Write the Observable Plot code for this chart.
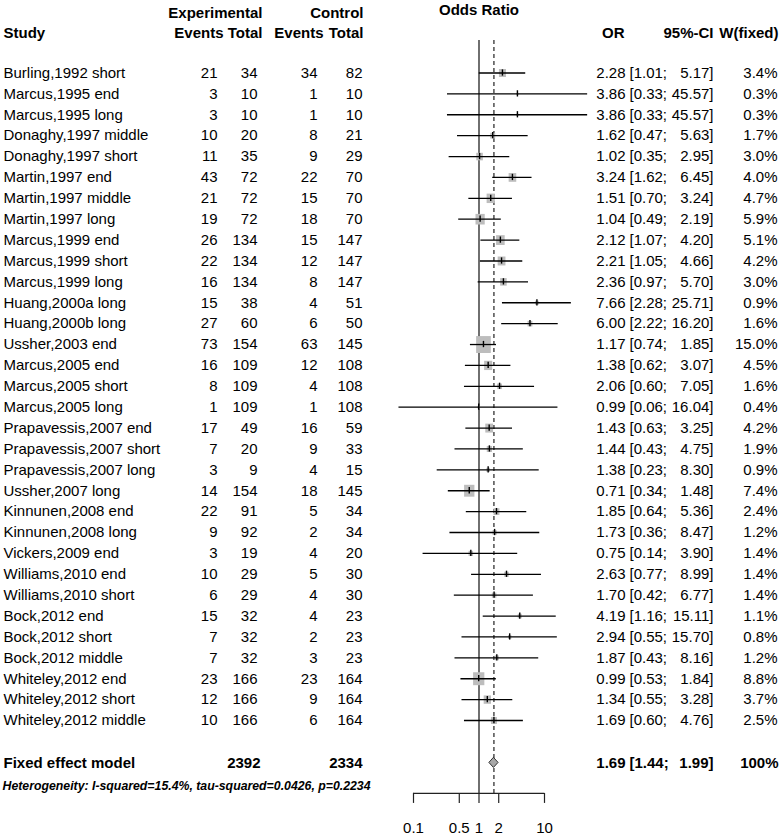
<!DOCTYPE html>
<html>
<head>
<meta charset="utf-8">
<script src="https://cdn.jsdelivr.net/npm/d3@7"></script>
<script src="https://cdn.jsdelivr.net/npm/@observablehq/plot@0.6"></script>
<style>
  html, body { margin: 0; padding: 0; background: #fff; }
  svg { display: block; }
</style>
</head>
<body>
<script>
const studies = [
  "Burling,1992 short","Marcus,1995 end","Marcus,1995 long","Donaghy,1997 middle","Donaghy,1997 short",
  "Martin,1997 end","Martin,1997 middle","Martin,1997 long","Marcus,1999 end","Marcus,1999 short",
  "Marcus,1999 long","Huang,2000a long","Huang,2000b long","Ussher,2003 end","Marcus,2005 end",
  "Marcus,2005 short","Marcus,2005 long","Prapavessis,2007 end","Prapavessis,2007 short","Prapavessis,2007 long",
  "Ussher,2007 long","Kinnunen,2008 end","Kinnunen,2008 long","Vickers,2009 end","Williams,2010 end",
  "Williams,2010 short","Bock,2012 end","Bock,2012 short","Bock,2012 middle","Whiteley,2012 end",
  "Whiteley,2012 short","Whiteley,2012 middle"
];
const expEvents  = [21,3,3,10,11,43,21,19,26,22,16,15,27,73,16,8,1,17,7,3,14,22,9,3,10,6,15,7,7,23,12,10];
const expTotal   = [34,10,10,20,35,72,72,72,134,134,134,38,60,154,109,109,109,49,20,9,154,91,92,19,29,29,32,32,32,166,166,166];
const ctrlEvents = [34,1,1,8,9,22,15,18,15,12,8,4,6,63,12,4,1,16,9,4,18,5,2,4,5,4,4,2,3,23,9,6];
const ctrlTotal  = [82,10,10,21,29,70,70,70,147,147,147,51,50,145,108,108,108,59,33,15,145,34,34,20,30,30,23,23,23,164,164,164];
const orValues   = [2.28,3.86,3.86,1.62,1.02,3.24,1.51,1.04,2.12,2.21,2.36,7.66,6.00,1.17,1.38,2.06,0.99,1.43,1.44,1.38,0.71,1.85,1.73,0.75,2.63,1.70,4.19,2.94,1.87,0.99,1.34,1.69];
const ciLower    = [1.01,0.33,0.33,0.47,0.35,1.62,0.70,0.49,1.07,1.05,0.97,2.28,2.22,0.74,0.62,0.60,0.06,0.63,0.43,0.23,0.34,0.64,0.36,0.14,0.77,0.42,1.16,0.55,0.43,0.53,0.55,0.60];
const ciUpper    = [5.17,45.57,45.57,5.63,2.95,6.45,3.24,2.19,4.20,4.66,5.70,25.71,16.20,1.85,3.07,7.05,16.04,3.25,4.75,8.30,1.48,5.36,8.47,3.90,8.99,6.77,15.11,15.70,8.16,1.84,3.28,4.76];
const weights    = [3.4,0.3,0.3,1.7,3.0,4.0,4.7,5.9,5.1,4.2,3.0,0.9,1.6,15.0,4.5,1.6,0.4,4.2,1.9,0.9,7.4,2.4,1.2,1.4,1.4,1.4,1.1,0.8,1.2,8.8,3.7,2.5];

const pooledLabel = ["Fixed effect model"];
const pooledTotals = [2392, 2334];
const pooledOR = [1.69];
const pooledCI = [1.44, 1.99];
const pooledWeight = ["100%"];
const heterogeneity = ["Heterogeneity: I-squared=15.4%, tau-squared=0.0426, p=0.2234"];
const axisTicks = [0.1, 0.5, 1, 2, 10];
const axisTickLabels = ["0.1", "0.5", "1", "2", "10"];

const FONT = "'Liberation Sans', Arial, Helvetica, sans-serif";
const f2 = d3.format(".2f");

const rows = studies.map((s, i) => ({
  i, study: s,
  ee: String(expEvents[i]), et: String(expTotal[i]), ce: String(ctrlEvents[i]), ct: String(ctrlTotal[i]),
  or: orValues[i], lo: ciLower[i], hi: ciUpper[i], w: weights[i],
  orTxt: f2(orValues[i]), loTxt: "[" + f2(ciLower[i]) + ";", hiTxt: f2(ciUpper[i]) + "]",
  wTxt: weights[i].toFixed(1) + "%"
}));

const POOL_ROW = 33.03;
const HET_ROW = 34.12;
const AXIS_ROW = 34.49;
const TICKLEN = 0.48;
const LABEL_ROW = 36.17;
const TOP_ROW = -1.556;
const HDR1 = -2.87, HDR2 = -1.9, ODDS_ROW = -3.0;

const squareSymbol = {
  draw(context, size) {
    const s = Math.sqrt(size), h = s * 1.15;
    context.rect(-s / 2, -h / 2, s, h);
  }
};

const txt = (data, opts) => Plot.text(data, {fontSize: 15, fill: "black", frameAnchor: "left", ...opts});

const diamond = [
  {y: POOL_ROW - 0.24, x1: pooledOR[0], x2: pooledOR[0]},
  {y: POOL_ROW, x1: pooledCI[0], x2: pooledCI[1]},
  {y: POOL_ROW + 0.24, x1: pooledOR[0], x2: pooledOR[0]}
];

const chart = Plot.plot({
  width: 783,
  height: 836,
  margin: 0,
  style: {fontFamily: FONT, background: "white"},
  x: {type: "log", domain: [0.1, 10], range: [413, 544], axis: null},
  y: {type: "linear", domain: [0, 31], range: [72.5, 720], axis: null},
  r: {type: "sqrt", domain: [0, 15], range: [0, 8.3]},
  marks: [
    // headers
    txt(["Experimental"], {y: HDR1, text: d => d, dx: 262, textAnchor: "end", fontWeight: "bold"}),
    txt(["Control"], {y: HDR1, text: d => d, dx: 363, textAnchor: "end", fontWeight: "bold"}),
    txt(["Study"], {y: HDR2, text: d => d, dx: 3, textAnchor: "start", fontWeight: "bold"}),
    txt(["Events"], {y: HDR2, text: d => d, dx: 223, textAnchor: "end", fontWeight: "bold"}),
    txt(["Total"], {y: HDR2, text: d => d, dx: 262, textAnchor: "end", fontWeight: "bold"}),
    txt(["Events"], {y: HDR2, text: d => d, dx: 323, textAnchor: "end", fontWeight: "bold"}),
    txt(["Total"], {y: HDR2, text: d => d, dx: 363, textAnchor: "end", fontWeight: "bold"}),
    Plot.text(["Odds Ratio"], {x: 1, y: ODDS_ROW, text: d => d, fontSize: 15, fontWeight: "bold", textAnchor: "middle", fill: "black"}),
    txt(["OR"], {y: HDR2, text: d => d, dx: 624, textAnchor: "end", fontWeight: "bold"}),
    txt(["95%-CI"], {y: HDR2, text: d => d, dx: 713, textAnchor: "end", fontWeight: "bold"}),
    txt(["W(fixed)"], {y: HDR2, text: d => d, dx: 778, textAnchor: "end", fontWeight: "bold"}),

    // study columns
    txt(rows, {y: "i", text: "study", dx: 3, textAnchor: "start"}),
    txt(rows, {y: "i", text: "ee", dx: 217, textAnchor: "end"}),
    txt(rows, {y: "i", text: "et", dx: 257, textAnchor: "end"}),
    txt(rows, {y: "i", text: "ce", dx: 317, textAnchor: "end"}),
    txt(rows, {y: "i", text: "ct", dx: 362, textAnchor: "end"}),
    txt(rows, {y: "i", text: "orTxt", dx: 625, textAnchor: "end"}),
    txt(rows, {y: "i", text: "loTxt", dx: 629, textAnchor: "start"}),
    txt(rows, {y: "i", text: "hiTxt", dx: 713, textAnchor: "end"}),
    txt(rows, {y: "i", text: "wTxt", dx: 777, textAnchor: "end"}),

    // reference lines
    Plot.ruleX([1], {x: d => d, y1: TOP_ROW, y2: AXIS_ROW, stroke: "#222", strokeWidth: 1.3}),
    Plot.ruleX(pooledOR, {x: d => d, y1: TOP_ROW, y2: AXIS_ROW, stroke: "#222", strokeWidth: 1.2, strokeDasharray: "4,3"}),

    // squares, CI lines, point ticks
    Plot.dot(rows, {x: "or", y: "i", r: "w", symbol: squareSymbol, fill: "#bdbdbd", stroke: "none"}),
    Plot.ruleY(rows, {y: "i", x1: "lo", x2: "hi", stroke: "black", strokeWidth: 1.3}),
    Plot.ruleX(rows, {x: "or", y1: d => d.i - 0.15, y2: d => d.i + 0.15, stroke: "black", strokeWidth: 1.4}),

    // pooled
    Plot.areaX(diamond, {y: "y", x1: "x1", x2: "x2", fill: "#a8a8a8", stroke: "#333", strokeWidth: 1, curve: "linear"}),
    txt(pooledLabel, {y: POOL_ROW, text: d => d, dx: 3, textAnchor: "start", fontWeight: "bold"}),
    txt([pooledTotals[0]], {y: POOL_ROW, text: d => String(d), dx: 260, textAnchor: "end", fontWeight: "bold"}),
    txt([pooledTotals[1]], {y: POOL_ROW, text: d => String(d), dx: 362, textAnchor: "end", fontWeight: "bold"}),
    txt(pooledOR, {y: POOL_ROW, text: d => f2(d), dx: 625, textAnchor: "end", fontWeight: "bold"}),
    txt([pooledCI[0]], {y: POOL_ROW, text: d => "[" + f2(d) + ";", dx: 629, textAnchor: "start", fontWeight: "bold"}),
    txt([pooledCI[1]], {y: POOL_ROW, text: d => f2(d) + "]", dx: 713, textAnchor: "end", fontWeight: "bold"}),
    txt(pooledWeight, {y: POOL_ROW, text: d => d, dx: 778, textAnchor: "end", fontWeight: "bold"}),
    txt(heterogeneity, {y: HET_ROW, text: d => d, dx: 2, textAnchor: "start", fontWeight: "bold", fontStyle: "italic", fontSize: 12.3}),

    // axis
    Plot.ruleY([AXIS_ROW], {y: d => d, x1: axisTicks[0], x2: axisTicks[axisTicks.length - 1], stroke: "#222", strokeWidth: 1.2}),
    Plot.ruleX(axisTicks, {x: d => d, y1: AXIS_ROW, y2: AXIS_ROW + TICKLEN, stroke: "#222", strokeWidth: 1.2}),
    Plot.text(axisTicks, {x: d => d, y: LABEL_ROW, text: (d, i) => axisTickLabels[i], fontSize: 15, textAnchor: "middle", fill: "black"})
  ]
});
document.body.appendChild(chart);
</script>
</body>
</html>
